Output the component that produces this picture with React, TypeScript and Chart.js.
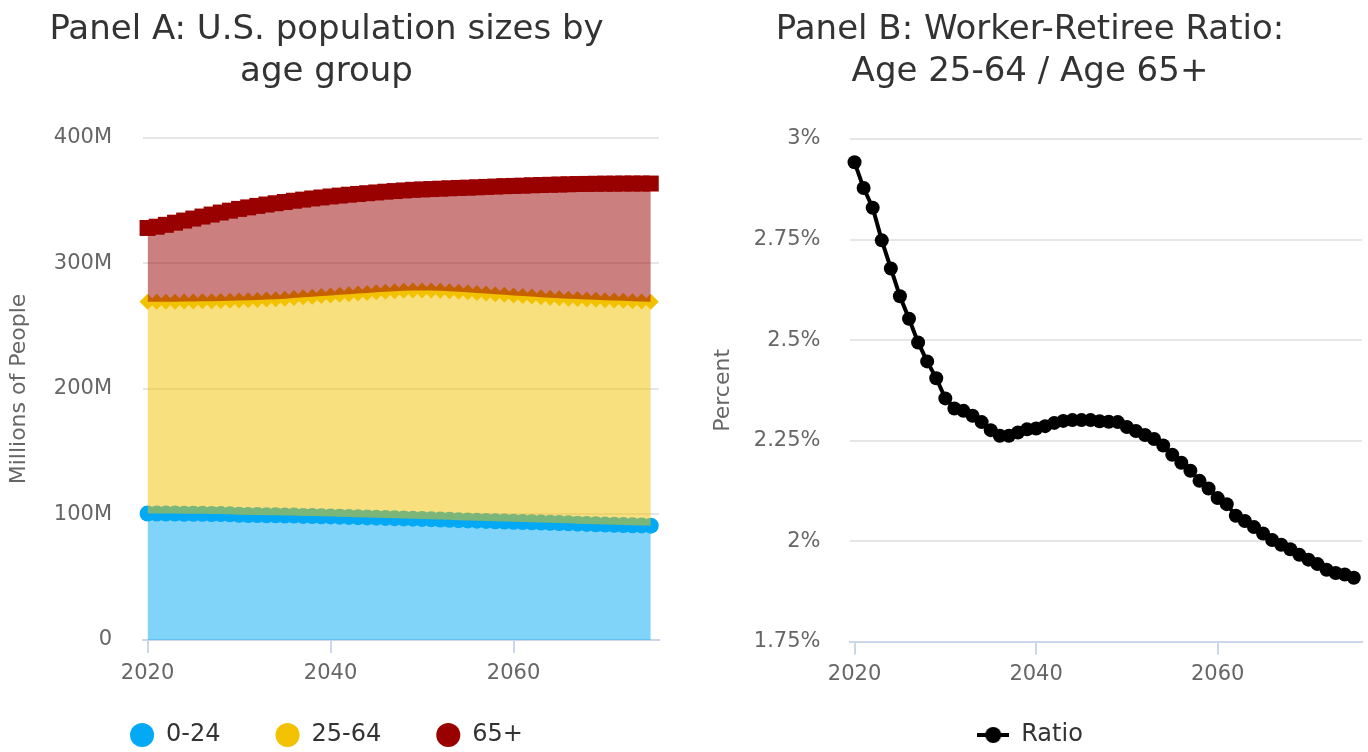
import React, { useEffect, useRef } from 'react';
import { Chart, registerables } from 'chart.js';

Chart.register(...registerables);

const FONT = "'DejaVu Sans', sans-serif";

const YEARS = [
  2020, 2021, 2022, 2023, 2024, 2025, 2026, 2027, 2028, 2029,
  2030, 2031, 2032, 2033, 2034, 2035, 2036, 2037, 2038, 2039,
  2040, 2041, 2042, 2043, 2044, 2045, 2046, 2047, 2048, 2049,
  2050, 2051, 2052, 2053, 2054, 2055, 2056, 2057, 2058, 2059,
  2060, 2061, 2062, 2063, 2064, 2065, 2066, 2067, 2068, 2069,
  2070, 2071, 2072, 2073, 2074, 2075,
];

// Panel A, millions of people
const POP_0_24 = [
  100.8, 100.8, 100.7, 100.7, 100.6, 100.6, 100.5, 100.4, 100.3, 100.1,
  99.8, 99.6, 99.5, 99.4, 99.3, 99.2, 99.1, 98.9, 98.8, 98.6,
  98.5, 98.3, 98.1, 97.9, 97.7, 97.5, 97.3, 97.1, 96.9, 96.7,
  96.5, 96.3, 96.0, 95.8, 95.5, 95.3, 95.1, 94.9, 94.6, 94.4,
  94.2, 94.0, 93.8, 93.6, 93.4, 93.2, 93.0, 92.7, 92.5, 92.2,
  92.0, 91.8, 91.6, 91.4, 91.3, 91.1,
];
const POP_25_64 = [
  168.7, 168.7, 168.9, 168.9, 169.1, 169.2, 169.4, 169.6, 169.9, 170.2,
  170.7, 171.1, 171.5, 171.9, 172.3, 172.8, 173.4, 174.1, 174.7, 175.4,
  176.0, 176.7, 177.4, 178.1, 178.8, 179.5, 180.2, 180.8, 181.4, 181.8,
  182.0, 182.1, 182.2, 182.1, 182.0, 181.7, 181.4, 181.1, 180.9, 180.6,
  180.3, 180.0, 179.8, 179.5, 179.3, 179.1, 179.0, 179.0, 178.9, 178.9,
  178.8, 178.7, 178.7, 178.6, 178.5, 178.5,
];
const POP_65_PLUS = [
  58.8, 59.8, 61.2, 62.9, 64.5, 66.0, 67.5, 69.0, 70.4, 71.8,
  73.0, 74.0, 74.9, 75.7, 76.4, 77.0, 77.5, 77.9, 78.3, 78.6,
  78.9, 79.1, 79.3, 79.4, 79.5, 79.6, 79.7, 79.8, 79.9, 80.2,
  80.5, 80.9, 81.4, 82.0, 82.7, 83.4, 84.2, 85.0, 85.8, 86.6,
  87.3, 88.0, 88.7, 89.4, 90.0, 90.6, 91.1, 91.6, 92.0, 92.4,
  92.8, 93.1, 93.4, 93.7, 93.9, 94.1,
];

// Panel B, worker / retiree ratio
const RATIO = [
  2.942, 2.878, 2.829, 2.748, 2.678, 2.609, 2.553, 2.494, 2.447, 2.405,
  2.355, 2.330, 2.324, 2.312, 2.296, 2.276, 2.262, 2.262, 2.270, 2.278,
  2.280, 2.286, 2.294, 2.299, 2.301, 2.301, 2.301, 2.298, 2.297, 2.296,
  2.284, 2.274, 2.264, 2.254, 2.238, 2.215, 2.195, 2.175, 2.150, 2.131,
  2.107, 2.092, 2.063, 2.050, 2.035, 2.019, 2.003, 1.991, 1.980, 1.966,
  1.954, 1.943, 1.929, 1.921, 1.917, 1.909,
];

const SERIES_NAMES = ['0-24', '25-64', '65+'];
const RATIO_NAME = 'Ratio';
const POP_TICKS = [0, 100, 200, 300, 400];
const RATIO_TICKS = [1.75, 2, 2.25, 2.5, 2.75, 3];
const YEAR_TICKS = [2020, 2040, 2060];

const TITLE_A = ['Panel A: U.S. population sizes by', 'age group'];
const TITLE_B = ['Panel B: Worker-Retiree Ratio:', 'Age 25-64 / Age 65+'];
const Y_TITLE_A = 'Millions of People';
const Y_TITLE_B = 'Percent';

const BLUE = '#03a9f4';
const BLUE_FILL = 'rgba(3,169,244,0.5)';
const YELLOW = '#f2c200';
const YELLOW_FILL = 'rgba(242,194,0,0.5)';
const RED = '#990000';
const RED_FILL = 'rgba(153,0,0,0.5)';

const GRID = '#e6e6e6';
const AXIS = '#ccd6eb';
const LABEL = '#666666';
const TITLE_COLOR = '#333333';

Chart.defaults.font.family = FONT;
Chart.defaults.color = LABEL;

function xScale(height: number, pad: number) {
  return {
    type: 'linear' as const,
    min: 2019.5,
    max: 2075.9,
    afterBuildTicks: (s: any) => {
      s.ticks = YEAR_TICKS.map((value) => ({ value }));
    },
    afterFit: (s: any) => {
      s.height = height;
      s.paddingLeft = 0;
      s.paddingRight = 0;
      s._computeLabelArea = () => undefined;
    },
    ticks: {
      color: LABEL,
      font: { size: 21, family: FONT },
      padding: pad,
      maxRotation: 0,
      callback: (v: any) => String(v),
    },
    grid: {
      display: true,
      drawOnChartArea: false,
      drawTicks: true,
      tickLength: 13,
      tickColor: AXIS,
      tickWidth: 2,
      color: AXIS,
      lineWidth: 2,
    },
    border: { display: true, color: AXIS, width: 2 },
  };
}

function PanelA() {
  const ref = useRef<HTMLCanvasElement>(null);
  useEffect(() => {
    const lower = POP_0_24;
    const middle = POP_0_24.map((v, i) => v + POP_25_64[i]);
    const upper = middle.map((v, i) => v + POP_65_PLUS[i]);
    const pts = (arr: number[]) => YEARS.map((x, i) => ({ x, y: arr[i] }));
    const chart = new Chart(ref.current as HTMLCanvasElement, {
      type: 'line',
      data: {
        datasets: [
          {
            label: SERIES_NAMES[0],
            data: pts(lower),
            borderColor: BLUE,
            backgroundColor: BLUE_FILL,
            borderWidth: 3,
            pointStyle: 'circle',
            pointRadius: 8,
            pointBackgroundColor: BLUE,
            pointBorderColor: BLUE,
            pointBorderWidth: 0,
            fill: 'origin',
            order: 3,
            clip: false,
            tension: 0,
          },
          {
            label: SERIES_NAMES[1],
            data: pts(middle),
            borderColor: YELLOW,
            backgroundColor: YELLOW_FILL,
            borderWidth: 3,
            pointStyle: 'rectRot',
            pointRadius: 8,
            pointBackgroundColor: YELLOW,
            pointBorderColor: YELLOW,
            pointBorderWidth: 0,
            fill: '-1',
            order: 2,
            clip: false,
            tension: 0,
          },
          {
            label: SERIES_NAMES[2],
            data: pts(upper),
            borderColor: RED,
            backgroundColor: RED_FILL,
            borderWidth: 3,
            pointStyle: 'rect',
            pointRadius: 11.3,
            pointBackgroundColor: RED,
            pointBorderColor: RED,
            pointBorderWidth: 0,
            fill: '-1',
            order: 1,
            clip: false,
            tension: 0,
          },
        ] as any,
      },
      options: {
        responsive: false,
        maintainAspectRatio: false,
        animation: false,
        devicePixelRatio: 1,
        events: [],
        layout: { autoPadding: false, padding: { left: 4, right: 5, top: 0, bottom: 0 } },
        scales: {
          x: xScale(28, 8) as any,
          y: {
            type: 'linear',
            min: 0,
            max: 400,
            afterBuildTicks: (s: any) => {
              s.ticks = POP_TICKS.map((value) => ({ value }));
            },
            afterFit: (s: any) => {
              s.width = 149;
            },
            ticks: {
              color: LABEL,
              font: { size: 21, family: FONT },
              padding: 31,
              callback: (v: any) => (v === 0 ? '0' : `${v}M`),
            },
            grid: {
              drawTicks: false,
              lineWidth: 2,
              color: (c: any) => (c.tick && c.tick.value === 0 ? 'rgba(0,0,0,0)' : GRID),
            },
            border: { display: false },
            title: {
              display: true,
              text: Y_TITLE_A,
              color: LABEL,
              font: { size: 22, family: FONT },
              padding: { top: 12, bottom: 0 },
            },
          },
        },
        plugins: {
          title: {
            display: true,
            text: TITLE_A,
            color: TITLE_COLOR,
            font: { size: 34, family: FONT, weight: 'normal', lineHeight: 1.235 },
            padding: { top: 9, bottom: 45 },
          },
          legend: {
            display: true,
            position: 'bottom',
            labels: {
              usePointStyle: true,
              pointStyle: 'circle',
              boxWidth: 24,
              boxHeight: 17,
              padding: 55,
              color: TITLE_COLOR,
              font: { size: 24, family: FONT },
              sort: (a: any, b: any) => a.datasetIndex - b.datasetIndex,
            },
          },
          tooltip: { enabled: false },
        },
      } as any,
    });
    return () => chart.destroy();
  }, []);
  return (
    <canvas
      ref={ref}
      width={674}
      height={757}
      style={{ position: 'absolute', left: -10, top: 0, width: 674, height: 757 }}
    />
  );
}

function makeRatioSymbol() {
  const c = document.createElement('canvas');
  c.width = 32;
  c.height = 18;
  const g = c.getContext('2d') as CanvasRenderingContext2D;
  g.strokeStyle = '#000000';
  g.lineWidth = 4;
  g.beginPath();
  g.moveTo(0, 9);
  g.lineTo(32, 9);
  g.stroke();
  g.fillStyle = '#000000';
  g.beginPath();
  g.arc(16, 9, 8, 0, Math.PI * 2);
  g.fill();
  return c;
}

function PanelB() {
  const ref = useRef<HTMLCanvasElement>(null);
  useEffect(() => {
    const symbol = makeRatioSymbol();
    const chart = new Chart(ref.current as HTMLCanvasElement, {
      type: 'line',
      data: {
        datasets: [
          {
            label: RATIO_NAME,
            data: YEARS.map((x, i) => ({ x, y: RATIO[i] })),
            borderColor: '#000000',
            backgroundColor: '#000000',
            borderWidth: 4,
            pointStyle: 'circle',
            pointRadius: 7,
            pointBackgroundColor: '#000000',
            pointBorderColor: '#000000',
            pointBorderWidth: 0,
            fill: false,
            clip: false,
            tension: 0,
          },
        ] as any,
      },
      options: {
        responsive: false,
        maintainAspectRatio: false,
        animation: false,
        devicePixelRatio: 1,
        events: [],
        layout: { autoPadding: false, padding: { left: 6, right: 6, top: 0, bottom: 0 } },
        scales: {
          x: xScale(26.3, 7) as any,
          y: {
            type: 'linear',
            min: 1.75,
            max: 3,
            afterBuildTicks: (s: any) => {
              s.ticks = RATIO_TICKS.map((value) => ({ value }));
            },
            afterFit: (s: any) => {
              s.width = 152;
            },
            ticks: {
              color: LABEL,
              font: { size: 21, family: FONT },
              padding: 29.5,
              callback: (v: any) => `${+Number(v).toFixed(2)}%`,
            },
            grid: {
              drawTicks: false,
              lineWidth: 2,
              color: (c: any) => (c.tick && c.tick.value === 1.75 ? 'rgba(0,0,0,0)' : GRID),
            },
            border: { display: false },
            title: {
              display: true,
              text: Y_TITLE_B,
              color: LABEL,
              font: { size: 22, family: FONT },
              padding: { top: 12, bottom: 0 },
            },
          },
        },
        plugins: {
          title: {
            display: true,
            text: TITLE_B,
            color: TITLE_COLOR,
            font: { size: 34, family: FONT, weight: 'normal', lineHeight: 1.235 },
            padding: { top: 9, bottom: 46 },
          },
          legend: {
            display: true,
            position: 'bottom',
            labels: {
              usePointStyle: true,
              pointStyle: symbol,
              pointStyleWidth: 32,
              boxHeight: 17,
              padding: 55,
              color: TITLE_COLOR,
              font: { size: 24, family: FONT },
            },
          },
          tooltip: { enabled: false },
        },
      } as any,
    });
    return () => chart.destroy();
  }, []);
  return (
    <canvas
      ref={ref}
      width={676}
      height={757}
      style={{ position: 'absolute', left: 692, top: 0, width: 676, height: 757 }}
    />
  );
}

export default function App() {
  return (
    <div
      style={{
        position: 'fixed',
        left: 0,
        top: 0,
        width: 1368,
        height: 752,
        overflow: 'hidden',
        background: '#ffffff',
      }}
    >
      <PanelA />
      <PanelB />
    </div>
  );
}
